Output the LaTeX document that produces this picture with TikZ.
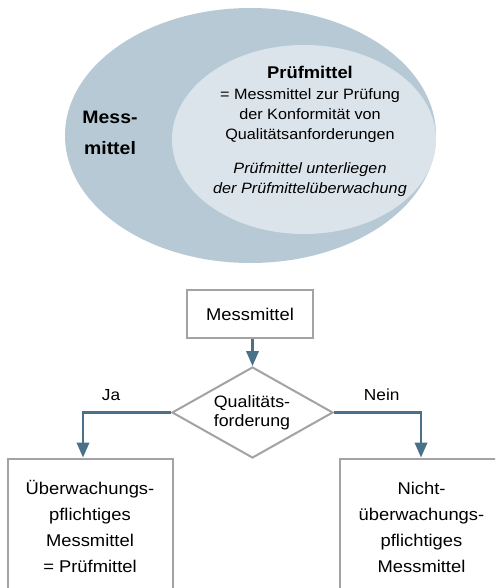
\documentclass[tikz,border=0pt]{standalone}
\usepackage{fontspec}
\setmainfont[FakeStretch=1.08]{Liberation Sans}
\usetikzlibrary{shapes.geometric,arrows.meta}
\definecolor{outerfill}{RGB}{183,201,213}
\definecolor{innerfill}{RGB}{220,228,235}
\definecolor{arrowcol}{RGB}{74,113,135}
\definecolor{boxline}{RGB}{163,163,163}
\begin{document}
\begin{tikzpicture}[x=1pt,y=-1pt,
  tx/.style={anchor=base, inner sep=0pt},
  body/.style={tx, font=\fontsize{15}{18}\selectfont},
  bodyit/.style={tx, font=\fontsize{15}{18}\selectfont\itshape},
  titlebold/.style={tx, font=\fontsize{17}{20}\selectfont\bfseries},
  messbold/.style={tx, font=\fontsize{18}{21}\selectfont\bfseries},
  flow/.style={tx, font=\fontsize{16.5}{20}\selectfont},
  boxtxt/.style={tx, font=\fontsize{17}{20}\selectfont},
  lab/.style={tx, font=\fontsize{16}{19}\selectfont},
  flowbox/.style={draw=boxline, line width=2pt, fill=white, inner sep=0pt},
  dia/.style={diamond, draw=boxline, line width=2pt, fill=white, inner sep=0pt},
  conn/.style={draw=arrowcol, line width=2.2pt, -{Triangle[width=12.5pt,length=15pt]}},
]
\clip (0,0) rectangle (495,588);
\fill[white] (0,0) rectangle (495,588);

% ellipses
\node[ellipse, fill=outerfill, inner sep=0pt, minimum width=371pt, minimum height=255pt] (outer) at (250.5,135.5) {};
\node[ellipse, fill=innerfill, inner sep=0pt, minimum width=264pt, minimum height=189pt] (inner) at (304,139.5) {};

\node[messbold] (m1) at (110,124) {Mess-};
\node[messbold] (m2) at (110,154.3) {mittel};

\node[titlebold] (pt) at (310,79) {Prüfmittel};
\node[body] (d1) at (310,99.3) {= Messmittel zur Prüfung};
\node[body] (d2) at (310,120) {der Konformität von};
\node[body] (d3) at (310,140) {Qualitätsanforderungen};
\node[bodyit] (i1) at (310,173) {Prüfmittel unterliegen};
\node[bodyit] (i2) at (310,193) {der Prüfmittelüberwachung};

% flowchart
\node[flowbox, minimum width=126pt, minimum height=48pt, font=\fontsize{17}{20}\selectfont] (mm) at (250,314) {Messmittel};
\node[dia, minimum width=161pt, minimum height=91pt] (q) at (252.5,412.5) {};
\node[flow] (q1) at (252,407.3) {Qualitäts-};
\node[flow] (q2) at (252,426.7) {forderung};

\node[flowbox, minimum width=165pt, minimum height=150pt, anchor=north west] (L) at (7,458) {};
\node[flowbox, minimum width=165pt, minimum height=150pt, anchor=north west] (R) at (339,458) {};

\node[boxtxt] (l1) at (90,494) {Überwachungs-};
\node[boxtxt] (l2) at (90,520.2) {pflichtiges};
\node[boxtxt] (l3) at (90,546.5) {Messmittel};
\node[boxtxt] (l4) at (90,572.7) {= Prüfmittel};

\node[boxtxt] (r1) at (421.5,494) {Nicht-};
\node[boxtxt] (r2) at (421.5,520.2) {überwachungs-};
\node[boxtxt] (r3) at (421.5,546.5) {pflichtiges};
\node[boxtxt] (r4) at (421.5,572.7) {Messmittel};

\node[lab] (ja) at (111,400) {Ja};
\node[lab] (nein) at (381.7,400) {Nein};

\coordinate (Ltip) at (83,457.5);
\coordinate (Rtip) at (421,457.5);

\draw[conn] (mm.south -| q.north) -- (q.north);
\draw[conn] (q.west) -| (Ltip);
\draw[conn] (q.east) -| (Rtip);
\end{tikzpicture}
\end{document}
